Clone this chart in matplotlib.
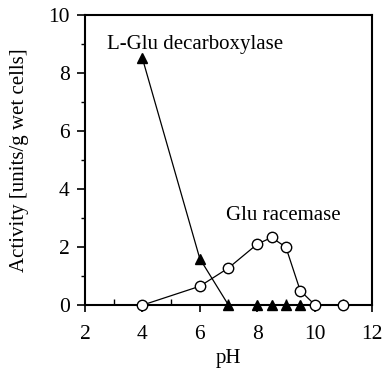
import matplotlib
matplotlib.use('Agg')
import matplotlib.pyplot as plt

# 数据
ph_dec = [4, 6, 7, 8, 8.5, 9, 9.5]
act_dec = [8.5, 1.6, 0, 0, 0, 0, 0]

ph_rac = [4, 6, 7, 8, 8.5, 9, 9.5, 10, 11]
act_rac = [0, 0.65, 1.28, 2.1, 2.33, 2.0, 0.5, 0.02, 0]

plt.rcParams['font.family'] = ['Liberation Serif', 'DejaVu Serif']
plt.rcParams['font.size'] = 15

fig = plt.figure(figsize=(3.85, 3.73), dpi=100)
ax = fig.add_axes([0.221, 0.182, 0.745, 0.778])

ax.plot(ph_dec, act_dec, '-', color='black', lw=0.9, clip_on=False,
        marker='^', ms=7, mfc='black', mec='black', zorder=3)
ax.plot(ph_rac, act_rac, '-', color='black', lw=0.9, clip_on=False,
        marker='o', ms=7.5, mfc='white', mec='black', mew=1, zorder=4)

ax.text(5.85, 8.97, 'L-Glu decarboxylase', ha='center', va='center', fontsize=15)
ax.text(8.9, 3.1, 'Glu racemase', ha='center', va='center', fontsize=15)

ax.set_xlim(2, 12)
ax.set_ylim(0, 10)
ax.set_xticks([2, 4, 6, 8, 10, 12])
ax.set_yticks([0, 2, 4, 6, 8, 10])
ax.set_xticks([3, 5, 7, 9, 11], minor=True)
ax.set_yticks([1, 3, 5, 7, 9], minor=True)
ax.tick_params(axis='x', which='major', direction='out', length=5, width=1.2,
               labelsize=15.5, pad=9)
ax.tick_params(axis='x', which='minor', direction='in', length=4, width=1)
ax.tick_params(axis='y', which='major', direction='out', length=6, width=1.2,
               labelsize=15.5, pad=5)
ax.tick_params(axis='y', which='minor', direction='out', length=3, width=1)
for s in ax.spines.values():
    s.set_linewidth(1.5)

ax.set_xlabel('pH', labelpad=4)
ax.set_ylabel('Activity [units/g wet cells]', labelpad=14)

plt.savefig('out.png', dpi=100)
